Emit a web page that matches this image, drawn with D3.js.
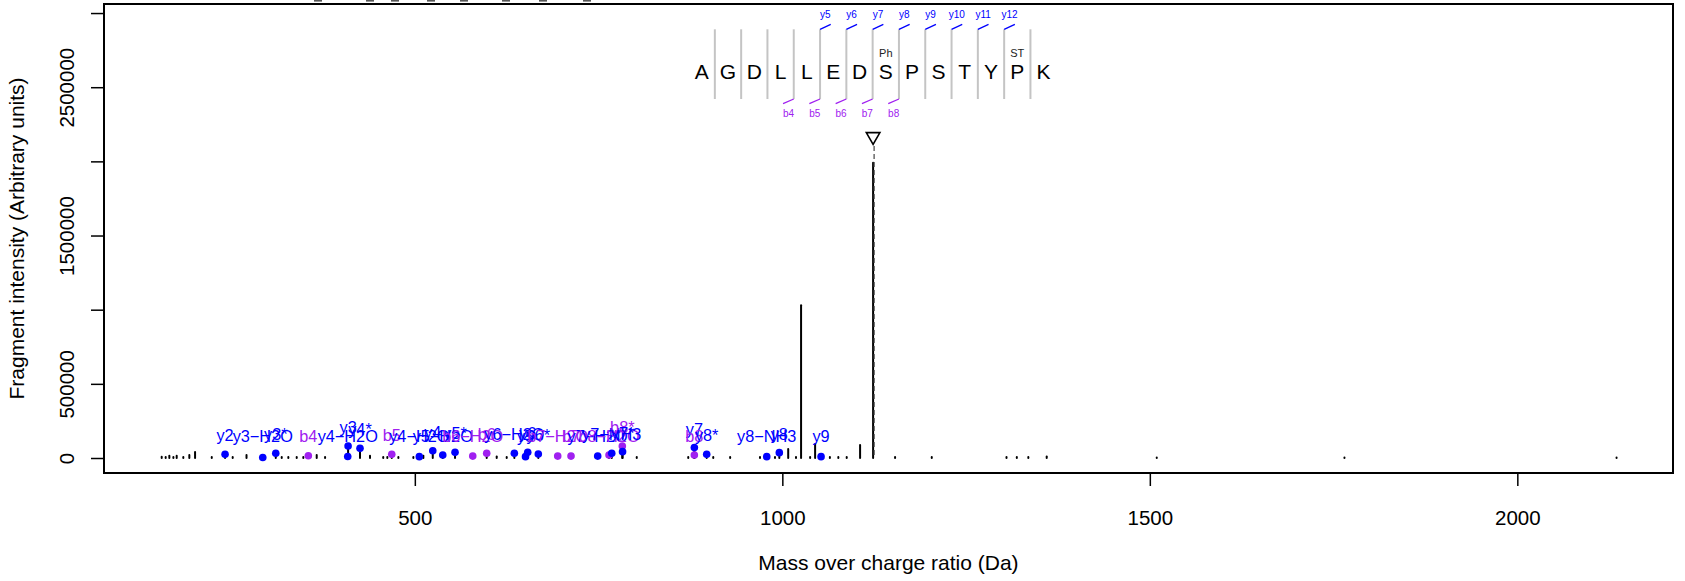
<!DOCTYPE html>
<html><head><meta charset="utf-8">
<script src="https://cdn.jsdelivr.net/npm/d3@7"></script>
<style>body{margin:0;background:#fff} text{font-family:"Liberation Sans",Arial,Helvetica,sans-serif}</style>
</head><body><svg id="c" width="1685" height="581"></svg>
<script>
// ---------- data ----------
const xTicks = [500, 1000, 1500, 2000];
const xTickLabels = ["500", "1000", "1500", "2000"];
const yTicks = [0, 500000, 1000000, 1500000, 2000000, 2500000, 3000000];
const yTickLabels = ["0", "500000", "", "1500000", "", "2500000", ""];

// unannotated fragment peaks (m/z, intensity)
const peakMz = [155.6, 161, 166, 171.5, 176, 185, 193.2, 201, 223.7, 252.2, 271, 318.9, 327.9, 339.3, 348.3,
  366.5, 377.9, 439, 457, 462.6, 477.6, 498, 511.6, 611.4, 625, 801.9, 872, 906, 929, 969.6, 990,
  1008, 1018.6, 1025.5, 1037.8, 1044.6, 1064.7, 1076.2, 1087.6, 1105.8, 1123.5, 1153.4, 1203.3,
  1305, 1319, 1334.7, 1359.7, 1509.4, 1764.8, 2135];
const peakIntensity = [8000, 6000, 15000, 6000, 15000, 6000, 20000, 40000, 6000, 6000, 20000, 6000, 6000, 6000, 6000,
  20000, 6000, 15000, 6000, 6000, 6000, 6000, 15000, 10000, 6000, 6000, 6000, 6000, 6000, 6000, 6000,
  60000, 6000, 1030000, 6000, 95000, 6000, 6000, 6000, 88000, 1990000, 6000, 6000,
  6000, 6000, 6000, 10000, 3000, 3000, 3000];

// annotated fragment ions
const ionMz = [241.8, 293.1, 310.8, 355.1, 408.7, 409.2, 425.4, 468.6, 506.1, 524.4, 538, 554.7, 578.8, 597.8,
  635.4, 650.6, 653.6, 668, 694.4, 712.5, 748.8, 764.2, 767.9, 782.3, 782.6, 880.3, 880.3, 897.1, 978.8, 995.9, 1052.7];
const ionIntensity = [25000, 3000, 32000, 15000, 10000, 81000, 65000, 25000, 9000, 49000, 20000, 38000, 13000, 32000,
  32000, 9000, 38000, 27000, 13000, 13000, 13000, 20000, 32000, 81000, 43000, 70000, 20000, 25000, 9000, 36000, 9000];
const ionLabel = ["y2", "y3−H2O", "y3*", "b4", "y4−H2O", "y3", "y4*", "b5", "y4−H2O", "y4", "y5−H2O", "y5*", "b6−H2O", "b6",
  "y6−H2O", "y5", "y6", "y6*", "b7−H2O", "b7", "y7−H2O", "b8−H2O", "y7−NH3", "b8*", "y7*", "y7", "b8", "y8*", "y8−NH3", "y8", "y9"];
const ionType = ["y", "y", "y", "b", "y", "y", "y", "b", "y", "y", "y", "y", "b", "b",
  "y", "y", "y", "y", "b", "b", "y", "b", "y", "b", "y", "y", "b", "y", "y", "y", "y"];

const precursorMz = 1123.5;

const sequence = ["A", "G", "D", "L", "L", "E", "D", "S", "P", "S", "T", "Y", "P", "K"];
const yIonSites = [5, 6, 7, 8, 9, 10, 11, 12];
const yIonNames = ["y5", "y6", "y7", "y8", "y9", "y10", "y11", "y12"];
const bIonSites = [4, 5, 6, 7, 8];
const bIonNames = ["b4", "b5", "b6", "b7", "b8"];
const modSites = [7, 12];
const modLabels = ["Ph", "ST"];

// bits of clipped text visible at the very top edge
const clippedMarkX = [318, 370, 395, 431, 464, 506, 543, 587];

// ---------- drawing ----------
const svg = d3.select("#c");
const L = 104, R = 1673, T = 4, B = 473;
const x = d3.scaleLinear().domain([77.1, 2211.8]).range([L, R]);
const y = d3.scaleLinear().domain([-101100, 3061000]).range([B, T]);
const col = {y: "#0000FF", b: "#A020F0"};
const axisFont = 20.5;
const FF = "Liberation Sans, Arial, sans-serif";

svg.append("g").selectAll("rect").data(clippedMarkX).join("rect")
  .attr("x", d => d - 4).attr("y", 0).attr("width", 8).attr("height", 1.6).attr("fill", "#555");

// peaks
const g = svg.append("g");
g.selectAll("line.pk").data(peakMz.map((m, i) => [m, peakIntensity[i]])).join("line")
  .attr("class", "pk")
  .attr("x1", d => x(d[0])).attr("x2", d => x(d[0]))
  .attr("y1", y(0)).attr("y2", d => y(d[1]))
  .attr("stroke", "#000").attr("stroke-width", 2).attr("stroke-linecap", "round");
g.selectAll("line.ion").data(ionMz.map((m, i) => [m, ionIntensity[i]])).join("line")
  .attr("class", "ion")
  .attr("x1", d => x(d[0])).attr("x2", d => x(d[0]))
  .attr("y1", y(0)).attr("y2", d => y(d[1]))
  .attr("stroke", "#000").attr("stroke-width", 2).attr("stroke-linecap", "round");

// precursor dashed line + triangle
g.append("line").attr("x1", x(precursorMz) + 1).attr("x2", x(precursorMz) + 1)
  .attr("y1", 146).attr("y2", y(0)).attr("stroke", "#444").attr("stroke-width", 1.2)
  .attr("stroke-dasharray", "5,3");
g.append("path").attr("d", d3.symbol(d3.symbolTriangle, 80)())
  .attr("transform", `translate(${x(precursorMz)},${136.5}) rotate(180)`)
  .attr("fill", "none").attr("stroke", "#000").attr("stroke-width", 1.6);

// ion dots and labels
const ions = ionMz.map((m, i) => ({m, I: ionIntensity[i], lab: ionLabel[i], t: ionType[i]}));
g.selectAll("circle").data(ions).join("circle")
  .attr("cx", d => x(d.m)).attr("cy", d => y(d.I)).attr("r", 3.8)
  .attr("fill", d => col[d.t]);
g.selectAll("text.lab").data(ions).join("text").attr("class", "lab")
  .attr("x", d => x(d.m)).attr("y", d => Math.min(436, y(d.I) - 19))
  .attr("text-anchor", "middle").attr("dominant-baseline", "central")
  .attr("font-size", 16.3).attr("fill", d => col[d.t]).text(d => d.lab);

// frame
svg.append("rect").attr("x", L).attr("y", T).attr("width", R - L).attr("height", B - T)
  .attr("fill", "none").attr("stroke", "#000").attr("stroke-width", 2);

// x axis
const xa = svg.append("g").attr("transform", `translate(0,${B})`)
  .call(d3.axisBottom(x).tickValues(xTicks).tickSize(13).tickSizeOuter(0).tickPadding(24)
    .tickFormat((d, i) => xTickLabels[i]));
xa.select(".domain").attr("d", `M${x(xTicks[0])},0H${x(xTicks[xTicks.length-1])}`).attr("stroke-width", 1.5);
xa.selectAll(".tick line").attr("stroke-width", 1.5);
xa.selectAll("text").attr("font-size", axisFont).attr("font-family", FF);

// y axis
const ya = svg.append("g").attr("transform", `translate(${L},0)`)
  .call(d3.axisLeft(y).tickValues(yTicks).tickSize(13).tickSizeOuter(0).tickFormat((d, i) => yTickLabels[i]));
ya.select(".domain").attr("d", `M0,${y(yTicks[0])}V${y(yTicks[yTicks.length-1])}`).attr("stroke-width", 1.5);
ya.selectAll(".tick line").attr("stroke-width", 1.5);
ya.selectAll(".tick text").attr("font-size", axisFont).attr("font-family", FF)
  .attr("text-anchor", "middle").attr("dominant-baseline", "central")
  .attr("transform", "translate(-38,0) rotate(-90)").attr("x", 0).attr("dy", null);

// axis titles
svg.append("text").attr("x", (L + R) / 2).attr("y", 562).attr("text-anchor", "middle")
  .attr("dominant-baseline", "central").attr("font-size", 21).text("Mass over charge ratio (Da)");
svg.append("text").attr("transform", `translate(16,${(T + B) / 2}) rotate(-90)`).attr("text-anchor", "middle")
  .attr("dominant-baseline", "central").attr("font-size", 21).text("Fragment intensity (Arbitrary units)");

// peptide sequence
const sx = d3.scaleLinear().domain([0, sequence.length - 1]).range([701.7, 1043.6]);
const step = sx(1) - sx(0);
const pg = svg.append("g");
pg.selectAll("line.sep").data(d3.range(1, sequence.length)).join("line").attr("class", "sep")
  .attr("x1", d => sx(d) - step / 2).attr("x2", d => sx(d) - step / 2)
  .attr("y1", 29.3).attr("y2", 99).attr("stroke", "#c4c4c4").attr("stroke-width", 2);
pg.selectAll("text.aa").data(sequence).join("text").attr("class", "aa")
  .attr("x", (d, i) => sx(i)).attr("y", 71).attr("text-anchor", "middle").attr("dominant-baseline", "central")
  .attr("font-size", 21).attr("fill", "#000").text(d => d);
pg.selectAll("line.yi").data(yIonSites).join("line").attr("class", "yi")
  .attr("x1", d => sx(d) - step / 2).attr("y1", 29.3).attr("x2", d => sx(d) - step / 2 + 10.7).attr("y2", 24.3)
  .attr("stroke", col.y).attr("stroke-width", 1.3);
pg.selectAll("text.yl").data(yIonSites).join("text").attr("class", "yl")
  .attr("x", d => sx(d) - step / 2 + 5.3).attr("y", 14.7).attr("text-anchor", "middle").attr("dominant-baseline", "central")
  .attr("font-size", 10).attr("fill", col.y).text((d, i) => yIonNames[i]);
pg.selectAll("line.bi").data(bIonSites).join("line").attr("class", "bi")
  .attr("x1", d => sx(d) - step / 2).attr("y1", 99).attr("x2", d => sx(d) - step / 2 - 10.7).attr("y2", 103.7)
  .attr("stroke", col.b).attr("stroke-width", 1.3);
pg.selectAll("text.bl").data(bIonSites).join("text").attr("class", "bl")
  .attr("x", d => sx(d) - step / 2 - 5.3).attr("y", 113.3).attr("text-anchor", "middle").attr("dominant-baseline", "central")
  .attr("font-size", 10).attr("fill", col.b).text((d, i) => bIonNames[i]);
pg.selectAll("text.mod").data(modSites).join("text").attr("class", "mod")
  .attr("x", d => sx(d)).attr("y", 53.3).attr("text-anchor", "middle").attr("dominant-baseline", "central")
  .attr("font-size", 11).attr("fill", "#222").text((d, i) => modLabels[i]);
</script></body></html>
